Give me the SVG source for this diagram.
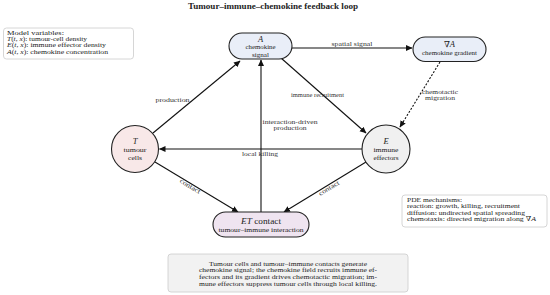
<svg xmlns="http://www.w3.org/2000/svg" width="550" height="295" viewBox="0 0 550 295">
<style>
text{font-family:"Liberation Serif","DejaVu Serif",serif;fill:#222}
.t{font-size:6.6px}
.p{font-size:6.9px}
.n{font-size:7px;text-anchor:middle}
.cap{font-size:7.1px;text-anchor:middle}
.v{font-size:8.5px;text-anchor:middle;font-style:italic}
.lb{font-size:6.9px;text-anchor:middle;fill:#333}
.node{stroke:#222;stroke-width:1.1}
.box{fill:#fff;stroke:#ccc;stroke-width:0.8}
.c{stroke:#111;stroke-width:1.1;fill:none}
</style>
<defs>
<marker id="ah" markerWidth="8" markerHeight="8" refX="6" refY="3" orient="auto" markerUnits="userSpaceOnUse">
<path d="M0,0 L6.5,3 L0,6 Z" fill="#111"/>
</marker>
</defs>
<rect width="550" height="295" fill="#fff"/>
<text x="273" y="9" textLength="170" lengthAdjust="spacingAndGlyphs" style="font-size:9.1px;font-weight:bold;text-anchor:middle">Tumour–immune–chemokine feedback loop</text>

<g id="model-variables">
<rect class="box" x="3.5" y="28" width="130" height="31" rx="3"/>
<text class="t" x="7" y="35" textLength="57" lengthAdjust="spacingAndGlyphs">Model variables:</text>
<text class="t" x="7" y="41.2" textLength="80" lengthAdjust="spacingAndGlyphs"><tspan font-style="italic">T</tspan>(<tspan font-style="italic">t, x</tspan>): tumour-cell density</text>
<text class="t" x="7" y="47.4" textLength="99" lengthAdjust="spacingAndGlyphs"><tspan font-style="italic">E</tspan>(<tspan font-style="italic">t, x</tspan>): immune effector density</text>
<text class="t" x="7" y="53.6" textLength="101" lengthAdjust="spacingAndGlyphs"><tspan font-style="italic">A</tspan>(<tspan font-style="italic">t, x</tspan>): chemokine concentration</text>
</g>

<g id="connectors">
<line class="c" x1="292" y1="48" x2="412" y2="48" marker-end="url(#ah)"/>
<text class="lb" x="352" y="45.5" textLength="41" lengthAdjust="spacingAndGlyphs">spatial signal</text>
<line class="c" x1="153" y1="133" x2="240" y2="61" marker-end="url(#ah)"/>
<text class="lb" x="172.5" y="102" textLength="34" lengthAdjust="spacingAndGlyphs">production</text>
<line class="c" x1="261" y1="212" x2="261" y2="60" marker-end="url(#ah)"/>
<text class="lb" x="290" y="123.5" textLength="55" lengthAdjust="spacingAndGlyphs">interaction-driven</text>
<text class="lb" x="290" y="130" textLength="33" lengthAdjust="spacingAndGlyphs">production</text>
<line class="c" x1="281" y1="58" x2="366" y2="133" marker-end="url(#ah)"/>
<text class="lb" x="317.5" y="97" textLength="53" lengthAdjust="spacingAndGlyphs">immune recruitment</text>
<line class="c" x1="440" y1="62" x2="400" y2="127" stroke-dasharray="2,1.6" stroke-width="1.4" marker-end="url(#ah)"/>
<text class="lb" x="440" y="93.5" textLength="36" lengthAdjust="spacingAndGlyphs">chemotactic</text>
<text class="lb" x="440" y="100" textLength="30" lengthAdjust="spacingAndGlyphs">migration</text>
<line class="c" x1="362" y1="149" x2="159.5" y2="149" marker-end="url(#ah)"/>
<text class="lb" x="260" y="155.5" textLength="36" lengthAdjust="spacingAndGlyphs">local killing</text>
<line class="c" x1="155" y1="162" x2="238" y2="212" marker-end="url(#ah)"/>
<text class="lb" transform="translate(189 188) rotate(31)" textLength="23" lengthAdjust="spacingAndGlyphs">contact</text>
<line class="c" x1="366" y1="162" x2="284" y2="212" marker-end="url(#ah)"/>
<text class="lb" transform="translate(330 190) rotate(-31)" textLength="23" lengthAdjust="spacingAndGlyphs">contact</text>
</g>

<g id="node-A">
<rect class="node" x="229" y="33" width="63" height="26" rx="13" fill="#e9eef8"/>
<text class="v" x="260.5" y="41.5">A</text>
<text class="n" x="260.5" y="49" textLength="30" lengthAdjust="spacingAndGlyphs">chemokine</text>
<text class="n" x="260.5" y="56.5" textLength="17" lengthAdjust="spacingAndGlyphs">signal</text>
</g>

<g id="node-gradA">
<rect class="node" x="413" y="37" width="73" height="24.5" rx="12.25" fill="#e9eef8"/>
<text class="v" x="449.5" y="46.5" style="font-style:normal">∇<tspan font-style="italic">A</tspan></text>
<text class="n" x="449.5" y="55" style="font-size:6.8px" textLength="55" lengthAdjust="spacingAndGlyphs">chemokine gradient</text>
</g>

<g id="node-T">
<circle class="node" cx="135" cy="149" r="23.5" fill="#f8e8e8"/>
<text class="v" x="135" y="144">T</text>
<text class="n" x="135" y="151.5" textLength="23" lengthAdjust="spacingAndGlyphs">tumour</text>
<text class="n" x="135" y="159.5" textLength="14" lengthAdjust="spacingAndGlyphs">cells</text>
</g>

<g id="node-E">
<circle class="node" cx="386" cy="149" r="24" fill="#f0f0f0"/>
<text class="v" x="386" y="144">E</text>
<text class="n" x="386" y="151.5" textLength="25" lengthAdjust="spacingAndGlyphs">immune</text>
<text class="n" x="386" y="159.5" textLength="25" lengthAdjust="spacingAndGlyphs">effectors</text>
</g>

<g id="node-ET">
<rect class="node" x="213" y="212" width="96" height="25" rx="12.5" fill="#efe4f0"/>
<text x="261" y="223.5" style="font-size:8.5px;text-anchor:middle" textLength="40" lengthAdjust="spacingAndGlyphs"><tspan font-style="italic">ET</tspan> contact</text>
<text class="n" x="261" y="232" textLength="85" lengthAdjust="spacingAndGlyphs">tumour–immune interaction</text>
</g>

<g id="pde-mechanisms">
<rect class="box" x="402" y="195" width="145" height="32" rx="3"/>
<text class="p" x="407" y="201.5" textLength="55" lengthAdjust="spacingAndGlyphs">PDE mechanisms:</text>
<text class="p" x="407" y="208" textLength="113" lengthAdjust="spacingAndGlyphs">reaction: growth, killing, recruitment</text>
<text class="p" x="407" y="214.7" textLength="118" lengthAdjust="spacingAndGlyphs">diffusion: undirected spatial spreading</text>
<text class="p" x="407" y="221.4" textLength="129" lengthAdjust="spacingAndGlyphs">chemotaxis: directed migration along ∇<tspan font-style="italic">A</tspan></text>
</g>

<g id="caption">
<rect x="168" y="254" width="240" height="38" rx="3" fill="#f2f2f2" stroke="#ccc" stroke-width="0.8"/>
<text class="cap" x="288" y="265.5" textLength="158" lengthAdjust="spacingAndGlyphs">Tumour cells and tumour–immune contacts generate</text>
<text class="cap" x="288" y="272.2" textLength="178" lengthAdjust="spacingAndGlyphs">chemokine signal; the chemokine field recruits immune ef-</text>
<text class="cap" x="288" y="278.9" textLength="178" lengthAdjust="spacingAndGlyphs">fectors and its gradient drives chemotactic migration; im-</text>
<text class="cap" x="288" y="285.6" textLength="178" lengthAdjust="spacingAndGlyphs">mune effectors suppress tumour cells through local killing.</text>
</g>
</svg>
